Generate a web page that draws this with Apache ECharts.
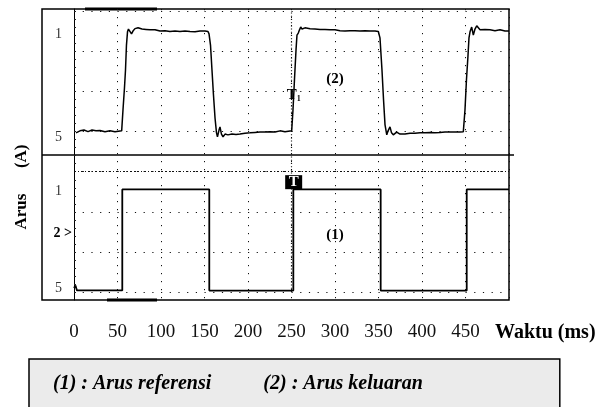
<!DOCTYPE html>
<html><head><meta charset="utf-8">
<script src="https://cdn.jsdelivr.net/npm/echarts@6/dist/echarts.min.js"></script>
<style>html,body{margin:0;padding:0;background:#fff}#c{width:604px;height:407px}</style>
</head><body><div id="c"></div>
<script>
const seriesNames = ['(1) : Arus referensi', '(2) : Arus keluaran'];
const xTickValues = [0, 50, 100, 150, 200, 250, 300, 350, 400, 450];
const xTickLabels = ['0', '50', '100', '150', '200', '250', '300', '350', '400', '450'];
const xAxisName = 'Waktu (ms)';
const yAxisName = 'Arus      (A)';
const yTickValues = [6.44, 3.87, 2.5, 1.45, 0.1];
const yTickLabels = ['1', '5', '1', '2 >', '5'];

// (1) reference current: time (ms) and level (screen divisions)
const refTime  = [0, 1.7, 3.4, 55.5, 55.5, 155.5, 155.5, 252.1, 252.1, 352.5, 352.5, 451.4, 451.4, 500];
const refLevel = [0.10, 0.16, 0.04, 0.04, 2.56, 2.56, 0.035, 0.035, 2.56, 2.56, 0.035, 0.035, 2.56, 2.56];

// (2) output current
const outTime = [2.3,6.9,11.5,16.1,20.7,25.3,29.9,35.6,41.4,47.1,54.8,
  56.3,58.0,59.2,60.3,61.5,62.6,
  64.4,66.1,67.8,70.1,73.6,78.2,82.8,87.4,93.1,98.9,104.6,110.3,116.1,121.8,127.6,133.3,139.1,144.8,150.6,154.0,
  155.2,156.9,158.6,160.3,162.1,163.8,164.9,166.7,167.8,169.5,171.3,
  173.6,177.0,181.6,186.2,190.8,196.5,202.3,208.0,213.8,219.5,225.3,231.0,236.8,242.5,250.2,
  251.7,253.4,255.2,256.3,257.8,259.2,260.6,262.1,
  265.5,271.3,277.0,282.8,288.5,294.3,300.0,305.7,311.5,317.2,323.0,328.7,334.5,340.2,346.0,349.8,
  351.7,354.0,355.8,357.5,359.5,361.0,363.2,365.0,367.0,
  370.9,374.7,380.4,386.2,391.9,397.7,403.4,409.2,414.9,420.7,426.4,432.2,437.9,443.6,447.5,
  449.4,451.1,452.9,454.0,455.2,457.1,459.0,460.9,462.9,
  466.7,472.4,478.2,483.9,489.7,495.4,500];
const outLevel = [3.97,4.02,4.04,4.00,4.04,4.02,4.03,4.00,4.02,4.00,4.02,
  4.54,5.09,5.54,6.16,6.49,6.56,
  6.57,6.44,6.51,6.57,6.59,6.56,6.55,6.54,6.54,6.51,6.52,6.50,6.51,6.50,6.51,6.50,6.49,6.51,6.51,6.50,
  6.44,6.16,5.54,4.92,4.34,3.97,3.87,4.04,4.12,3.94,3.87,
  3.94,3.92,3.94,3.93,3.94,3.96,3.97,3.98,3.99,3.99,4.00,3.99,4.02,4.00,4.02,
  4.54,5.29,6.04,6.41,6.46,6.54,6.61,6.56,
  6.59,6.57,6.56,6.55,6.55,6.54,6.54,6.52,6.51,6.52,6.52,6.51,6.52,6.51,6.51,6.50,
  6.34,5.54,4.79,4.17,3.92,4.02,4.12,3.97,3.92,
  3.99,3.94,3.94,3.96,3.96,3.97,3.97,3.98,3.97,3.98,3.99,3.99,3.99,3.99,4.00,
  4.54,5.29,5.91,6.34,6.49,6.61,6.41,6.56,6.64,
  6.54,6.55,6.54,6.52,6.54,6.51,6.51];

const FONT = '"Liberation Serif", "Times New Roman", serif';
const zip = (a, b) => a.map((v, i) => [v, b[i]]);

const chart = echarts.init(document.getElementById('c'), null, {renderer: 'canvas'});
chart.setOption({
  animation: false,
  backgroundColor: '#fff',
  grid: [
    {left: 74, top: 11.4, width: 435, height: 280.6, outerBoundsMode: 'none', containLabel: false},
    {left: 74, top: 9, width: 435, height: 291, outerBoundsMode: 'none', containLabel: false},
    {left: 42, top: 9, width: 467, height: 291, show: true, borderColor: '#000', borderWidth: 1.5,
     backgroundColor: 'transparent', outerBoundsMode: 'none', containLabel: false}
  ],
  xAxis: [
    {gridIndex: 0, type: 'value', min: 0, max: 500, interval: 50, show: false},
    {gridIndex: 1, type: 'value', min: 0, max: 500, interval: 50,
     axisLine: {show: false}, axisTick: {show: false},
     splitLine: {show: true, lineStyle: {color: '#111', width: 1, type: [1.2, 6.8]}},
     axisLabel: {show: true, customValues: xTickValues, margin: 23,
       formatter: (v) => { const i = xTickValues.indexOf(v); return i >= 0 ? xTickLabels[i] : ''; },
       fontFamily: FONT, fontSize: 19, color: '#111'},
     name: xAxisName, nameLocation: 'end', nameGap: -14,
     nameTextStyle: {fontFamily: FONT, fontSize: 20, fontWeight: 'bold', color: '#000',
       verticalAlign: 'top', align: 'left', padding: [23, 0, 0, 0]}},
    {gridIndex: 2, type: 'value', min: 0, max: 1, show: false}
  ],
  yAxis: [
    {gridIndex: 0, type: 'value', min: 0, max: 7, interval: 1,
     axisLine: {show: false},
     axisTick: {show: true, inside: true, length: 2, lineStyle: {color: '#222'}},
     minorTick: {show: true, splitNumber: 5, length: 2, lineStyle: {color: '#222', width: 1}},
     splitLine: {show: true, lineStyle: {color: '#111', width: 1, type: [1.2, 7.5]}},
     axisLabel: {show: true, customValues: yTickValues, margin: 2,
       formatter: (v) => {
         const i = yTickValues.findIndex(t => Math.abs(t - v) < 1e-6);
         if (i < 0) return '';
         const s = yTickLabels[i];
         return s.indexOf('>') >= 0 ? '{b|' + s + '}' : '{n|' + s + '}';
       },
       rich: {
         n: {fontFamily: FONT, fontSize: 14, color: '#333', padding: [0, 10, 0, 0]},
         b: {fontFamily: FONT, fontSize: 14, fontWeight: 'bold', color: '#000'}
       }}},
    {gridIndex: 1, type: 'value', min: 0, max: 1,
     axisLine: {show: true, lineStyle: {color: '#000', width: 1}},
     axisTick: {show: false}, axisLabel: {show: false}, splitLine: {show: false}},
    {gridIndex: 2, type: 'value', min: 0, max: 1, show: false}
  ],
  legend: {
    left: 29, top: 359, orient: 'horizontal',
    icon: 'none', itemWidth: 0, itemHeight: 14, itemGap: 47,
    padding: [15, 137, 60, 19],
    backgroundColor: '#ebebeb', borderColor: '#000', borderWidth: 1.5, borderRadius: 0,
    selectedMode: false,
    data: seriesNames,
    textStyle: {fontFamily: FONT, fontSize: 20, fontStyle: 'italic', fontWeight: 'bold', color: '#000'}
  },
  series: [
    {name: seriesNames[0], type: 'line', xAxisIndex: 0, yAxisIndex: 0,
     data: zip(refTime, refLevel), showSymbol: false, symbol: 'none',
     lineStyle: {color: '#000', width: 1.8}, itemStyle: {color: '#000'}, z: 5,
     markLine: {silent: true, symbol: 'none', label: {show: false},
       data: [
         {yAxis: 3, lineStyle: {color: '#111', width: 1, type: [2, 2, 1, 2]}},
         {xAxis: 250, lineStyle: {color: '#111', width: 1.2, type: [1, 2.2]}}
       ]},
     markPoint: {silent: true,
       data: [
         {coord: [300, 1.42], symbol: 'rect', symbolSize: 1, itemStyle: {color: 'rgba(0,0,0,0)'},
          label: {show: true, position: 'inside', formatter: '(1)', fontFamily: FONT, fontSize: 15, fontWeight: 'bold', color: '#000'}},
         {coord: [252.5, 2.74], symbol: 'rect', symbolSize: [17, 14], itemStyle: {color: '#000'},
          label: {show: true, position: 'inside', formatter: 'T', fontFamily: FONT, fontSize: 15, fontWeight: 'bold', color: '#fff'}}
       ]}},
    {name: seriesNames[1], type: 'line', xAxisIndex: 0, yAxisIndex: 0,
     data: zip(outTime, outLevel), showSymbol: false, symbol: 'none',
     lineStyle: {color: '#000', width: 1.5}, itemStyle: {color: '#000'}, z: 5,
     markPoint: {silent: true,
       data: [
         {coord: [300, 5.31], symbol: 'rect', symbolSize: 1, itemStyle: {color: 'rgba(0,0,0,0)'},
          label: {show: true, position: 'inside', formatter: '(2)', fontFamily: FONT, fontSize: 15, fontWeight: 'bold', color: '#000'}},
         {coord: [252.5, 4.9], symbol: 'rect', symbolSize: 1, itemStyle: {color: 'rgba(0,0,0,0)'},
          label: {show: true, position: 'inside', formatter: '{t|T}{s|1}',
            rich: {t: {fontFamily: FONT, fontSize: 15, fontWeight: 'bold', color: '#000'},
                   s: {fontFamily: FONT, fontSize: 8, fontWeight: 'bold', color: '#000', padding: [6, 0, 0, 0]}}}}
       ]}}
  ],
  graphic: [
    {type: 'text', x: 22, y: 187, rotation: Math.PI / 2, silent: true,
     style: {text: yAxisName, font: 'bold 17px ' + FONT, fill: '#000', align: 'center', verticalAlign: 'middle'}},
    {type: 'line', silent: true, shape: {x1: 42, y1: 155, x2: 514, y2: 155}, style: {stroke: '#000', lineWidth: 1.5}},
    {type: 'line', silent: true, shape: {x1: 85, y1: 9, x2: 157, y2: 9}, style: {stroke: '#000', lineWidth: 3}},
    {type: 'line', silent: true, shape: {x1: 107, y1: 300, x2: 157, y2: 300}, style: {stroke: '#000', lineWidth: 3}}
  ]
});
</script>
</body></html>
